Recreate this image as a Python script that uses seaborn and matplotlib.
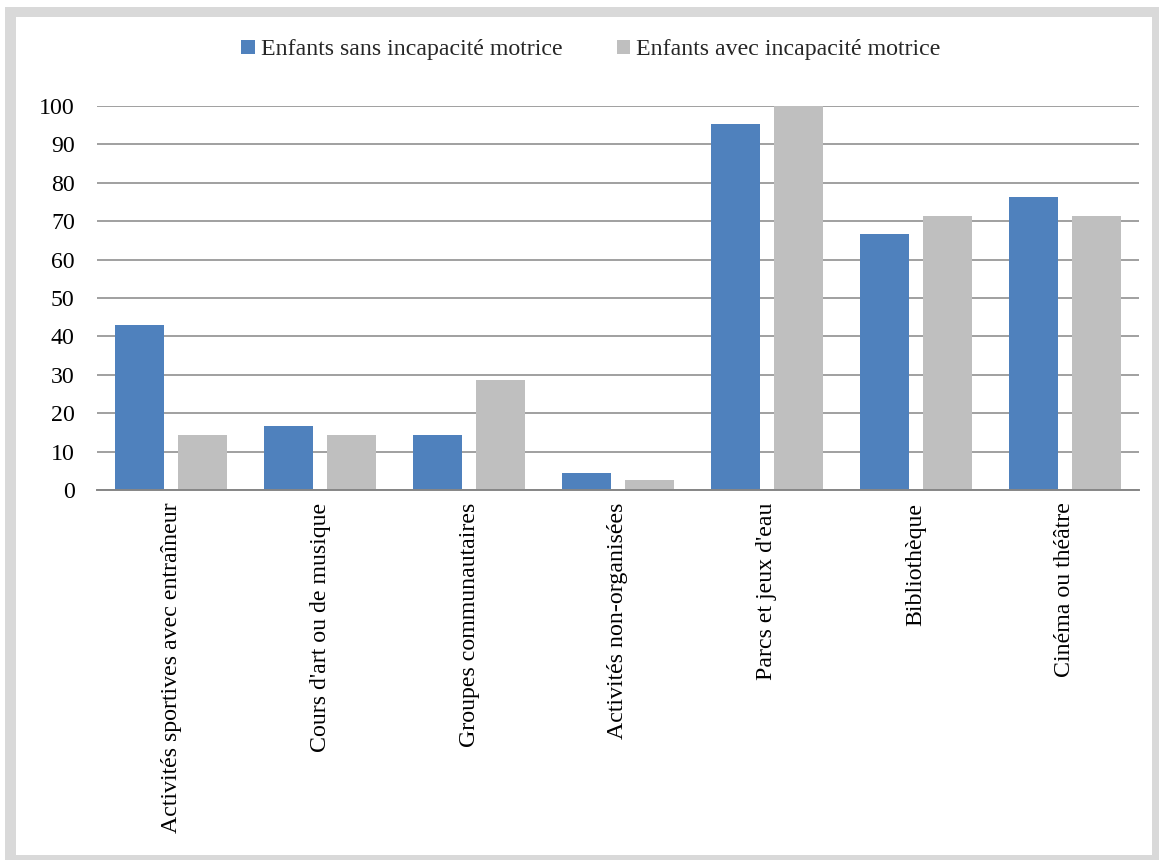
import matplotlib
matplotlib.use("Agg")
import matplotlib.pyplot as plt
import matplotlib.patches as mpatches
import seaborn as sns
import pandas as pd

categories = [
    "Activités sportives avec entraîneur",
    "Cours d'art ou de musique",
    "Groupes communautaires",
    "Activités non-organisées",
    "Parcs et jeux d'eau",
    "Bibliothèque",
    "Cinéma ou théâtre",
]
series_names = ["Enfants sans incapacité motrice", "Enfants avec incapacité motrice"]
sans_incapacite = [42.9, 16.7, 14.3, 4.5, 95.2, 66.7, 76.2]
avec_incapacite = [14.3, 14.3, 28.6, 2.7, 100.0, 71.4, 71.4]
yticks = [0, 10, 20, 30, 40, 50, 60, 70, 80, 90, 100]

colors = ["#4F81BD", "#BFBFBF"]

df = pd.DataFrame({
    "cat": categories * 2,
    "val": sans_incapacite + avec_incapacite,
    "serie": [series_names[0]] * len(categories) + [series_names[1]] * len(categories),
})

sns.set_theme(style="white")
plt.rcParams["font.family"] = ["Liberation Serif", "DejaVu Serif"]
FS = 17.2

fig = plt.figure(figsize=(11.59, 8.60), dpi=100)
W, H = 1159, 860
ax = fig.add_axes([97 / W, 1 - 490 / H, (1139 - 97) / W, (490 - 106) / H])

sns.barplot(data=df, x="cat", y="val", hue="serie", order=categories,
            hue_order=series_names, palette=colors, width=0.846, gap=0.222,
            saturation=1, linewidth=0, ax=ax, legend=False)

ax.set_ylim(0, 100)
ax.set_xlim(-0.5, len(categories) - 0.5)
ax.set_yticks(yticks)
ax.set_yticklabels([str(t) for t in yticks], fontsize=FS)
ax.set_xticks(range(len(categories)))
ax.set_xticklabels(categories, rotation=90, fontsize=FS, ha="center", va="top")
ax.tick_params(axis="y", length=0, pad=16, colors="black")
ax.tick_params(axis="x", length=0, pad=9, colors="black")
ax.set_xlabel("")
ax.set_ylabel("")
ax.set_axisbelow(True)
ax.yaxis.grid(True, color="#868686", linewidth=1.1)
ax.xaxis.grid(False)
for s in ["top", "right", "left"]:
    ax.spines[s].set_visible(False)
ax.spines["bottom"].set_color("#868686")
ax.spines["bottom"].set_linewidth(1.4)

handles = [mpatches.Patch(facecolor=c, edgecolor="none") for c in colors]
fig.legend(handles, series_names, loc="center", bbox_to_anchor=(591 / W, 1 - 50 / H),
           ncol=2, frameon=False, fontsize=FS, handlelength=0.55, handleheight=0.55,
           handletextpad=0.25, columnspacing=2.3, borderaxespad=0)

# outer chart frame (light gray border)
bc = "#D9D9D9"
for (x0, y0, x1, y1) in [(5, 7, 1159, 17), (5, 7, 16, 860), (1152, 7, 1159, 860), (5, 855, 1159, 860)]:
    fig.patches.append(mpatches.Rectangle((x0 / W, 1 - y1 / H), (x1 - x0) / W, (y1 - y0) / H,
                                          transform=fig.transFigure, facecolor=bc,
                                          edgecolor="none", zorder=-1))

fig.savefig("out.png", dpi=100, facecolor="white")
